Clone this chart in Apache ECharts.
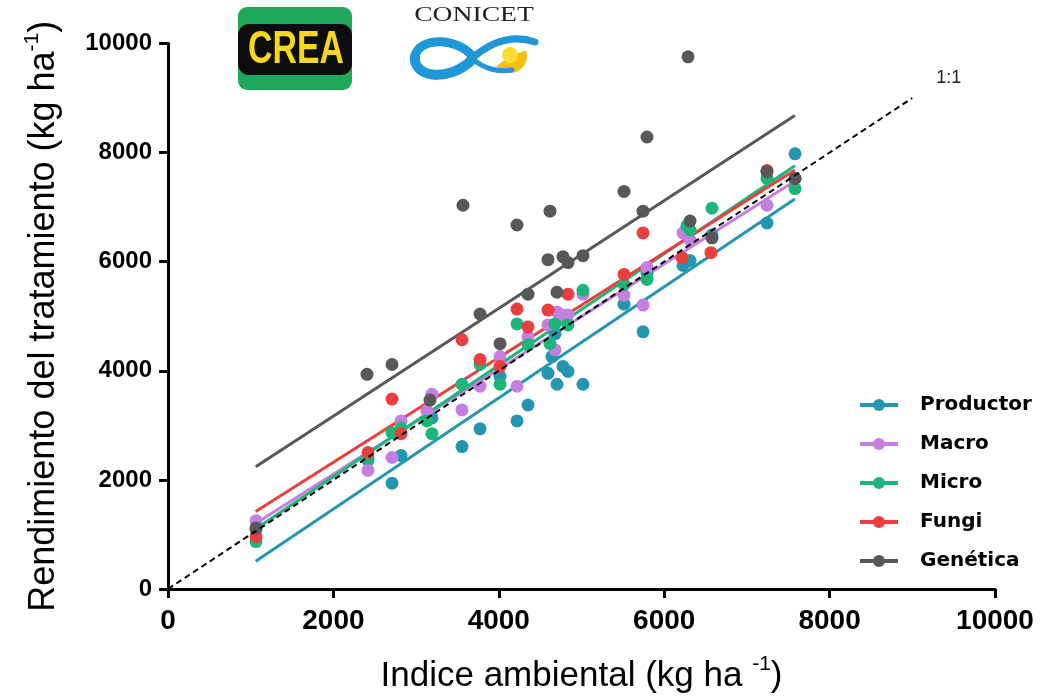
<!DOCTYPE html>
<html>
<head>
<meta charset="utf-8">
<script src="https://cdn.jsdelivr.net/npm/echarts@6/dist/echarts.min.js"></script>
<style>
  html, body { margin: 0; padding: 0; background: #ffffff; }
  #chart { width: 1043px; height: 699px; }
</style>
</head>
<body>
<div id="chart"></div>
<script>
// Treatment names and colours
const seriesNames = ['Productor', 'Macro', 'Micro', 'Fungi', 'Genética'];
const seriesColors = ['#2596b0', '#c47fe0', '#1db57a', '#ea3f3f', '#585858'];

// Axis ticks (kg ha-1)
const axisTicks = [0, 2000, 4000, 6000, 8000, 10000];

// [índice ambiental, rendimiento] per treatment
const productor = [
  [1064, 1088], [2418, 2357], [2709, 1940], [2818, 2448], [3192, 3137],
  [3555, 2611], [3773, 2937], [4015, 3898], [4220, 3082], [4353, 3373],
  [4595, 3953], [4643, 4261], [4680, 4678], [4704, 3753], [4776, 4080],
  [4837, 3989], [5018, 3753], [5514, 5222], [5744, 4714], [5792, 5802],
  [6227, 5930], [6312, 6020], [6578, 6490], [7243, 6709], [7582, 7978]
];
const macro = [
  [1064, 1250], [2418, 2176], [2709, 2411], [2818, 3082], [3130, 3264],
  [3192, 3572], [3555, 3282], [3773, 3717], [4015, 4261], [4220, 3717],
  [4353, 4624], [4595, 4841], [4680, 4388], [4704, 5077], [4776, 5022],
  [4837, 5022], [5018, 5404], [5514, 5385], [5744, 5204], [5792, 5893],
  [6227, 6528], [6312, 6400], [6578, 6437], [7243, 7035], [7582, 7525]
];
const micro = [
  [1064, 870], [2418, 2400], [2709, 2865], [2818, 2950], [3130, 3082],
  [3192, 2847], [3555, 3753], [3773, 4116], [4015, 3753], [4220, 4860],
  [4353, 4479], [4619, 4497], [4680, 4860], [4837, 4841], [5018, 5476],
  [5514, 5585], [5792, 5675], [6275, 6655], [6312, 6580], [6578, 6980],
  [7243, 7525], [7582, 7340]
];
const fungi = [
  [1064, 960], [2418, 2502], [2709, 3481], [2818, 2847], [3555, 4569],
  [3773, 4207], [4015, 4080], [4220, 5131], [4353, 4805], [4595, 5113],
  [4837, 5404], [5514, 5766], [5744, 6528], [6215, 6074], [6565, 6165],
  [7243, 7670], [7582, 7525]
];
const genetica = [
  [1064, 1120], [2406, 3935], [2709, 4116], [3168, 3463], [3567, 7035],
  [3773, 5041], [4015, 4497], [4220, 6673], [4353, 5404], [4595, 6038],
  [4619, 6927], [4704, 5440], [4776, 6092], [4837, 5984], [5018, 6110],
  [5514, 7289], [5744, 6927], [5792, 8286], [6288, 9755], [6312, 6745],
  [6578, 6437], [7243, 7651], [7582, 7525]
];

// Fitted regression lines: [start, end]
const fitProductor = [[1060, 510], [7580, 7150]];
const fitMacro     = [[1060, 1200], [7580, 7480]];
const fitMicro     = [[1060, 1100], [7580, 7760]];
const fitFungi     = [[1060, 1420], [7580, 7680]];
const fitGenetica  = [[1060, 2240], [7580, 8680]];

// 1:1 reference line
const lineaUnoUno = [[0, 0], [9000, 9000]];

const pointSets = [productor, macro, micro, fungi, genetica];
const fitSets = [fitProductor, fitMacro, fitMicro, fitFungi, fitGenetica];

const chart = echarts.init(document.getElementById('chart'), null, { renderer: 'canvas' });

// Fit lines come first so the legend uses their line+dot icon
const fitSeries = seriesNames.map((name, i) => ({
  name: name,
  type: 'line',
  data: fitSets[i],
  symbol: 'circle',
  showSymbol: false,
  lineStyle: { color: seriesColors[i], width: 3 },
  itemStyle: { color: seriesColors[i] },
  z: 2,
  silent: true
}));

const pointSeries = seriesNames.map((name, i) => ({
  name: name,
  type: 'scatter',
  data: pointSets[i],
  symbol: 'circle',
  symbolSize: 13,
  itemStyle: { color: seriesColors[i], opacity: 1 },
  z: 3
}));

const sansFont = 'Liberation Sans, Arial, sans-serif';
const plainNumber = (v) => String(v);

// CONICET emblem strokes
const swirl = (x1, y1, cpx1, cpy1, cpx2, cpy2, x2, y2, w) => ({
  type: 'bezierCurve', z: 12,
  shape: { x1, y1, cpx1, cpy1, cpx2, cpy2, x2, y2 },
  style: { stroke: '#1e98d6', lineWidth: w, fill: null, lineCap: 'round' }
});

const option = {
  backgroundColor: '#ffffff',
  animation: false,
  grid: { left: 168, right: 48, top: 43.5, bottom: 104, containLabel: false },
  legend: {
    orient: 'vertical',
    left: 853,
    top: 390,
    itemWidth: 38,
    itemHeight: 15,
    itemGap: 19,
    data: seriesNames,
    textStyle: {
      fontFamily: 'DejaVu Sans, sans-serif',
      fontWeight: 'bold',
      fontSize: 20,
      lineHeight: 20,
      color: '#000',
      padding: [0, 0, 0, 17]
    },
    lineStyle: { width: 4 }
  },
  xAxis: {
    type: 'value',
    min: axisTicks[0],
    max: axisTicks[axisTicks.length - 1],
    interval: 2000,
    splitLine: { show: false },
    axisLine: { show: true, onZero: false, lineStyle: { color: '#000', width: 3 } },
    axisTick: { show: true, length: 9, lineStyle: { color: '#000', width: 3 } },
    axisLabel: { fontSize: 28, margin: 18, fontFamily: sansFont, fontWeight: 'bold', color: '#000', formatter: plainNumber },
    name: '{t|Indice ambiental (kg ha }{s|-1}{t|)}',
    nameLocation: 'middle',
    nameGap: 65,
    nameTextStyle: {
      rich: {
        t: { fontFamily: sansFont, fontSize: 35, lineHeight: 40, color: '#000', verticalAlign: 'bottom' },
        s: { fontFamily: sansFont, fontSize: 21, lineHeight: 20, color: '#000', verticalAlign: 'top' }
      }
    }
  },
  yAxis: {
    type: 'value',
    min: axisTicks[0],
    max: axisTicks[axisTicks.length - 1],
    interval: 2000,
    splitLine: { show: false },
    axisLine: { show: true, onZero: false, lineStyle: { color: '#000', width: 3 } },
    axisTick: { show: true, length: 9, lineStyle: { color: '#000', width: 3 } },
    axisLabel: { fontSize: 24, margin: 16, fontFamily: sansFont, fontWeight: 'bold', color: '#000', formatter: plainNumber },
    name: '{t|Rendimiento del tratamiento (kg ha}{s|-1}{t|)}',
    nameLocation: 'middle',
    nameGap: 106,
    nameTextStyle: {
      rich: {
        t: { fontFamily: sansFont, fontSize: 36, lineHeight: 40, color: '#000', verticalAlign: 'bottom' },
        s: { fontFamily: sansFont, fontSize: 21, lineHeight: 20, color: '#000', verticalAlign: 'top' }
      }
    }
  },
  series: [
    ...fitSeries,
    ...pointSeries,
    {
      name: '1:1',
      type: 'line',
      data: lineaUnoUno,
      symbol: 'none',
      lineStyle: { color: '#000', width: 2, type: [6, 4] },
      z: 4,
      silent: true,
      endLabel: {
        show: true,
        formatter: '1:1',
        color: '#222',
        fontSize: 18,
        fontFamily: sansFont,
        offset: [16, -20]
      }
    }
  ],
  graphic: [
    // CREA logo
    { type: 'rect', z: 10, shape: { x: 238, y: 7, width: 114, height: 83, r: 9 }, style: { fill: '#1fa85c' } },
    { type: 'rect', z: 11, shape: { x: 238, y: 24, width: 114, height: 51, r: 11 }, style: { fill: '#0d0d0d' } },
    { type: 'text', z: 12, x: 296, y: 50, scaleX: 0.72, style: { text: 'CREA', fill: '#f8d61c', font: 'bold 47px "Liberation Sans", Arial, sans-serif', align: 'center', verticalAlign: 'middle' } },
    // CONICET logo
    { type: 'text', z: 12, x: 474, y: 16, scaleX: 1.38, style: { text: 'CONICET', fill: '#222', font: '20px "Liberation Serif", "Times New Roman", serif', align: 'center', verticalAlign: 'middle' } },
    { type: 'sector', z: 11, shape: { cx: 510, cy: 56, r0: 0, r: 17, startAngle: -0.35, endAngle: 2.5 }, style: { fill: '#f5bf12' } },
    { type: 'circle', z: 11, shape: { cx: 510, cy: 55, r: 8 }, style: { fill: '#fbdb36' } },
    swirl(472, 56, 458, 38, 420, 36, 415, 56, 9),
    swirl(415, 56, 412, 76, 446, 84, 472, 60, 10),
    swirl(470, 60, 490, 42, 512, 34, 535, 42, 7),
    swirl(472, 58, 484, 70, 500, 72, 512, 70, 5)
  ]
};

chart.setOption(option);
</script>
</body>
</html>
